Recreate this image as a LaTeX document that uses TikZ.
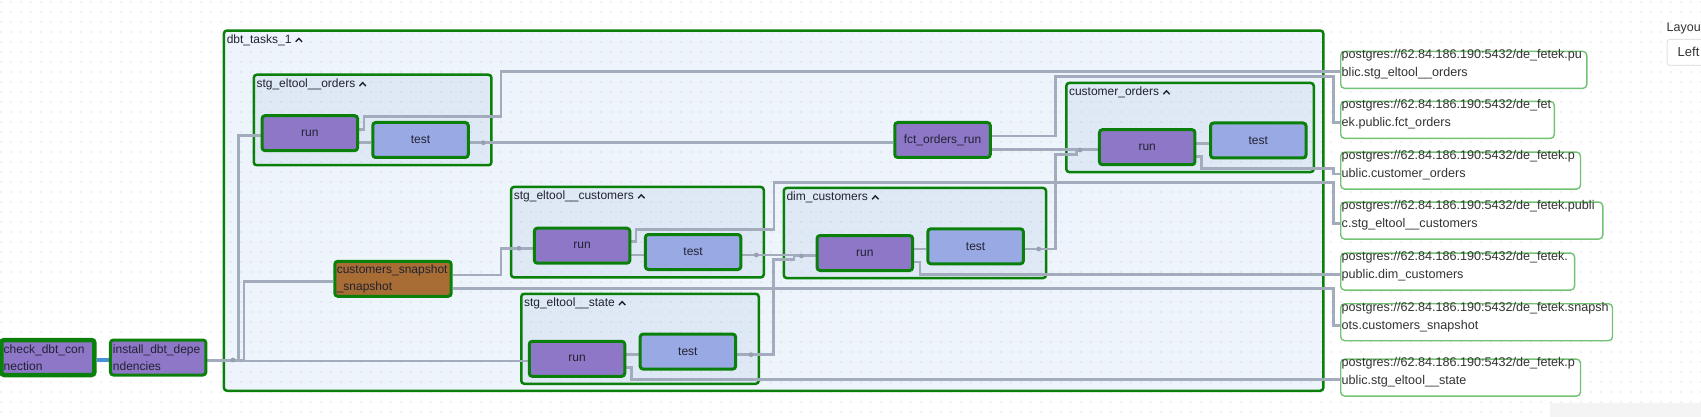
\documentclass[tikz,border=0pt]{standalone}
\usepackage{fontspec}
\setmainfont{Liberation Sans}
\usetikzlibrary{patterns.meta}

\definecolor{fgText}{HTML}{222233}
\definecolor{fgMuted}{HTML}{333333}
\definecolor{tasksFill}{HTML}{EEF4FB}
\definecolor{grpFill}{HTML}{DEE9F5}
\definecolor{grpLine}{HTML}{0A800A}
\definecolor{runFill}{HTML}{8E77C7}
\definecolor{testFill}{HTML}{99A9E3}
\definecolor{snapFill}{HTML}{A86D34}
\definecolor{linkLine}{HTML}{A3ACBD}
\definecolor{linkDot}{HTML}{97A0B2}
\definecolor{flowLine}{HTML}{4A90D9}
\definecolor{sinkLine}{HTML}{74C274}
\definecolor{gridDot}{HTML}{C4C4C4}
\definecolor{uiLine}{HTML}{E3E3E3}
\definecolor{uiFill}{HTML}{F4F4F4}

\pgfdeclarelayer{bg}
\pgfdeclarelayer{links}
\pgfsetlayers{bg,links,main}

\begin{document}
\begin{tikzpicture}[
    x=1pt, y=-1pt,
    font=\fontsize{12}{17}\selectfont,
    dotgrid/.style={pattern={Dots[distance=10pt, radius=0.65pt, xshift=1pt, yshift=5pt]}, pattern color=gridDot},
    grp/.style={rectangle, rounded corners=3pt, inner sep=0pt,
                postaction={dotgrid}, postaction={draw=grpLine, line width=2.5pt}},
    outergrp/.style={grp, fill=tasksFill},
    innergrp/.style={grp, fill=grpFill},
    grptitle/.style={anchor=west, inner sep=0pt, text=fgText},
    caret/.style={draw=fgText, line width=1.4pt},
    task/.style={rectangle, rounded corners=3pt, draw=grpLine, line width=3pt, text=fgText,
                 minimum width=95.5pt, minimum height=35pt, inner sep=0pt},
    runbox/.style={task, fill=runFill},
    testbox/.style={task, fill=testFill},
    opbox/.style={task, fill=runFill, align=left, inner xsep=2.5pt, text width=90.5pt},
    link/.style={draw=linkLine, line width=2.6pt},
    flow/.style={draw=flowLine, line width=3.5pt},
    linkdot/.style={fill=linkDot},
    sink/.style={rectangle, rounded corners=4pt, draw=sinkLine, line width=1.4pt, fill=white,
                 anchor=north west, minimum height=37pt, inner sep=0pt},
    sinktext/.style={anchor=base west, align=left, inner sep=0pt, text=fgMuted,
                     font=\fontsize{12.6}{18}\selectfont},
  ]

  \def\grpcaret#1{\draw[caret] ([shift={(4,2)}]#1.east) -- ++(3.2,-3.4) -- ++(3.2,3.4);}

  \useasboundingbox (0,0) rectangle (1701,417);

  % CANVAS AND GROUPS
  \begin{pgfonlayer}{bg}
  \fill[white] (0,0) rectangle (1701,417);
  \path[dotgrid] (0,0) rectangle (1701,417);
  \node[outergrp, minimum width=1099.4pt, minimum height=360.2pt] (tasksGrp) at (773.65,210.65) {};
  \node[innergrp, minimum width=237.7pt, minimum height=90.5pt] (ordGrp) at (372.6,120) {};
  \node[innergrp, minimum width=252.7pt, minimum height=90.5pt] (custGrp) at (637.4,232.2) {};
  \node[innergrp, minimum width=262.3pt, minimum height=90.1pt] (dimGrp) at (914.9,233) {};
  \node[innergrp, minimum width=237.5pt, minimum height=90pt] (stateGrp) at (640,338.75) {};
  \node[innergrp, minimum width=247.5pt, minimum height=89.1pt] (coGrp) at (1190,127.5) {};

  \node[grptitle] (tasksTitle) at ([shift={(2.8,9.5)}]tasksGrp.north west) {dbt\_tasks\_1};
  \node[grptitle] (ordTitle) at ([shift={(2.8,9.5)}]ordGrp.north west) {stg\_eltool\_\_orders};
  \node[grptitle] (custTitle) at ([shift={(2.8,9.5)}]custGrp.north west) {stg\_eltool\_\_customers};
  \node[grptitle] (dimTitle) at ([shift={(2.8,9.5)}]dimGrp.north west) {dim\_customers};
  \node[grptitle] (stateTitle) at ([shift={(2.8,9.5)}]stateGrp.north west) {stg\_eltool\_\_state};
  \node[grptitle] (coTitle) at ([shift={(2.8,9.5)}]coGrp.north west) {customer\_orders};
  \grpcaret{tasksTitle}
  \grpcaret{ordTitle}
  \grpcaret{custTitle}
  \grpcaret{dimTitle}
  \grpcaret{stateTitle}
  \grpcaret{coTitle}
  \end{pgfonlayer}

  % TASKS
  \node[opbox, line width=4.5pt, minimum width=93.2pt, text width=88.2pt] (check) at (47.85,357.5) {check\_dbt\_con\\nection};
  \node[opbox] (install) at (158.2,357.5) {install\_dbt\_depe\\ndencies};
  \node[opbox, fill=snapFill, minimum width=116.4pt, inner xsep=2pt, text width=112.4pt] (snap) at (393,278.8) {customers\_snapshot\\\_snapshot};
  \node[runbox] (ordRun) at (309.85,133.15) {run};
  \node[testbox] (ordTest) at (420.5,140) {test};
  \node[runbox] (fctRun) at (942.5,140) {fct\_orders\_run};
  \node[runbox] (custRun) at (582.1,245.7) {run};
  \node[testbox] (custTest) at (693.1,252) {test};
  \node[runbox] (dimRun) at (864.8,253) {run};
  \node[testbox] (dimTest) at (975.6,246.3) {test};
  \node[runbox] (stateRun) at (577,358.8) {run};
  \node[testbox] (stateTest) at (687.9,351.6) {test};
  \node[runbox] (coRun) at (1147.2,147.2) {run};
  \node[testbox] (coTest) at (1258.3,140.5) {test};

  % DATASETS
  \node[sink, minimum width=246.1pt] (pg1) at (1340,50.7) {};
  \node[sinktext] (pg1txt) at ([shift={(1.5,26.1)}]pg1.north west) {postgres://62.84.186.190:5432/de\_fetek.pu\\blic.stg\_eltool\_\_orders};
  \node[sink, minimum width=213.6pt] (pg2) at (1340,100.7) {};
  \node[sinktext] (pg2txt) at ([shift={(1.5,26.1)}]pg2.north west) {postgres://62.84.186.190:5432/de\_fet\\ek.public.fct\_orders};
  \node[sink, minimum width=239.8pt] (pg3) at (1340,151.4) {};
  \node[sinktext] (pg3txt) at ([shift={(1.5,26.1)}]pg3.north west) {postgres://62.84.186.190:5432/de\_fetek.p\\ublic.customer\_orders};
  \node[sink, minimum width=262.1pt] (pg4) at (1340,201.4) {};
  \node[sinktext] (pg4txt) at ([shift={(1.5,26.1)}]pg4.north west) {postgres://62.84.186.190:5432/de\_fetek.publi\\c.stg\_eltool\_\_customers};
  \node[sink, minimum width=233.9pt] (pg5) at (1340,252.4) {};
  \node[sinktext] (pg5txt) at ([shift={(1.5,26.1)}]pg5.north west) {postgres://62.84.186.190:5432/de\_fetek.\\public.dim\_customers};
  \node[sink, minimum width=271.8pt] (pg6) at (1340,303) {};
  \node[sinktext] (pg6txt) at ([shift={(1.5,26.1)}]pg6.north west) {postgres://62.84.186.190:5432/de\_fetek.snapsh\\ots.customers\_snapshot};
  \node[sink, minimum width=239.8pt] (pg7) at (1340,358.4) {};
  \node[sinktext] (pg7txt) at ([shift={(1.5,26.1)}]pg7.north west) {postgres://62.84.186.190:5432/de\_fetek.p\\ublic.stg\_eltool\_\_state};

  % LINKS
  \begin{pgfonlayer}{links}
  \draw[flow] (check.east |- 0,360) -- (install.west |- 0,360);
  \draw[link] (install.east |- 0,360) -| (238.7,135.7) -- (ordRun.west |- 0,135.7);
  \draw[link] (install.east |- 0,360) -| (244,281.7) -- (snap.west |- 0,281.7);
  \draw[link] (install.east |- 0,361) -- (stateRun.west |- 0,361);
  \draw[link] (ordRun.east |- 0,142.7) -- (ordTest.west |- 0,142.7);
  \draw[link] (ordRun.east |- 0,129.3) -- (364,129.3) |- (501,116.7) |- (pg1.west |- 0,71.7);
  \draw[link] (ordTest.east |- 0,142.7) -- (fctRun.west |- 0,142.7);
  \draw[link] (fctRun.east |- 0,136) -| (1055.7,76.7) -| (1333.3,122.7) -- (pg2.west |- 0,122.7);
  \draw[link] (fctRun.east |- 0,149.3) -- (coRun.west |- 0,149.3);
  \draw[link] (snap.east |- 0,275) -| (501,248.3) -- (custRun.west |- 0,248.3);
  \draw[link] (snap.east |- 0,288.3) -| (1333.3,325.7) -- (pg6.west |- 0,325.7);
  \draw[link] (custRun.east |- 0,255) -- (custTest.west |- 0,255);
  \draw[link] (custRun.east |- 0,241.7) -- (636,241.7) |- (773.9,229.3) |- (1333.3,182.3) |- (pg4.west |- 0,223.3);
  \draw[link] (custTest.east |- 0,255) -- (dimRun.west |- 0,255);
  \draw[link] (stateRun.east |- 0,354.7) -- (stateTest.west |- 0,354.7);
  \draw[link] (stateRun.east |- 0,367.3) -- (631.7,367.3) |- (pg7.west |- 0,379.3);
  \draw[link] (stateTest.east |- 0,354.7) -| (773.5,259.5) -| (794,256) -- (dimRun.west |- 0,256);
  \draw[link] (dimRun.east |- 0,249) -- (dimTest.west |- 0,249);
  \draw[link] (dimRun.east |- 0,262) -- (920,262) |- (pg5.west |- 0,274.3);
  \draw[link] (dimTest.east |- 0,249) -| (1055.7,154.3) -| (1076.7,150) -- (coRun.west |- 0,150);
  \draw[link] (coRun.east |- 0,143.3) -- (coTest.west |- 0,143.3);
  \draw[link] (coRun.east |- 0,156.7) -- (1201.7,156.7) |- (1333.3,168.3) |- (pg3.west |- 0,174);

  \fill[linkdot] (233,360) circle[radius=2.4pt];
  \fill[linkdot] (483.3,142.7) circle[radius=2.4pt];
  \fill[linkdot] (519,248.3) circle[radius=2.4pt];
  \fill[linkdot] (756.3,255) circle[radius=2.4pt];
  \fill[linkdot] (801.5,256) circle[radius=2.4pt];
  \fill[linkdot] (751,354.7) circle[radius=2.4pt];
  \fill[linkdot] (1038.7,249) circle[radius=2.4pt];
  \fill[linkdot] (1080,150) circle[radius=2.4pt];
  \end{pgfonlayer}

  % LAYOUT PANEL
  \node[anchor=west, inner sep=0pt, text=fgMuted, font=\fontsize{12.5}{15}\selectfont] (layoutLbl) at (1666.5,28.3) {Layout};
  \node[rectangle, rounded corners=3pt, draw=uiLine, line width=1pt, fill=white, anchor=north west,
        minimum width=60pt, minimum height=26pt] (layoutSel) at (1666.5,38.8) {};
  \node[anchor=west, inner sep=0pt, text=fgMuted, font=\fontsize{13}{15}\selectfont] (layoutVal) at ([xshift=11]layoutSel.west) {Left};
  \fill[uiFill] (1550,403.3) rectangle (1701,417);

\end{tikzpicture}
\end{document}
